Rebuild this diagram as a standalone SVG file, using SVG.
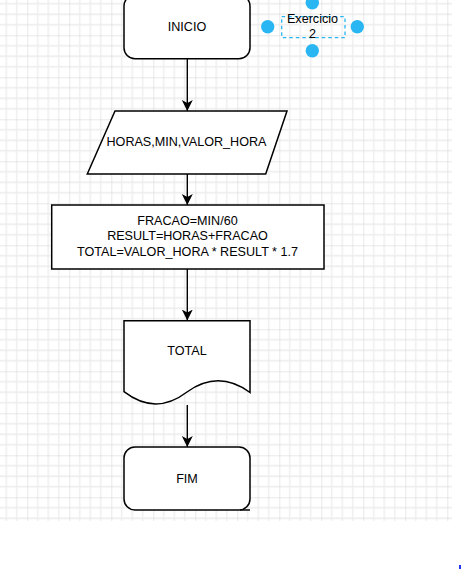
<svg xmlns="http://www.w3.org/2000/svg" width="462" height="569" viewBox="0 0 462 569">
<defs>
<pattern id="grid" patternUnits="userSpaceOnUse" x="-14.7" y="-6.7" width="42" height="42">
<path d="M10.5 0V42M21 0V42M31.5 0V42M0 10.5H42M0 21H42M0 31.5H42" stroke="#ececec" stroke-width="1.3" fill="none"/>
<path d="M0 0V42M0 0H42" stroke="#d2d2d2" stroke-width="1" fill="none"/>
</pattern>
<marker id="arr" viewBox="0 0 12 12" refX="11" refY="6" markerWidth="12" markerHeight="12" markerUnits="userSpaceOnUse" orient="auto">
<path d="M0 0.5L11 6L0 11.5L3 6Z" fill="#000"/>
</marker>
<clipPath id="gc"><rect x="0" y="0" width="452" height="521"/></clipPath>
</defs>
<style>
.shape{fill:#fff;stroke:#000;stroke-width:1.5}
.lbl{font-family:"Liberation Sans",Arial,sans-serif;font-size:12.6px;fill:#000;text-anchor:middle}
.edge{stroke:#000;stroke-width:1.4;fill:none;marker-end:url(#arr)}
.handle{fill:#29b6f2}
</style>
<rect width="462" height="569" fill="#fff"/>
<rect x="0" y="0" width="452" height="521" fill="url(#grid)" clip-path="url(#gc)"/>
<g id="connectors">
<path class="edge" d="M187.3 58.7V111"/>
<path class="edge" d="M187.3 174V205"/>
<path class="edge" d="M187.3 269V320.5"/>
<path class="edge" d="M187.3 405V447"/>
</g>
<g id="inicio">
<rect class="shape" x="124" y="-5" width="126" height="63.7" rx="11"/>
<text class="lbl" x="187" y="30.5">INICIO</text>
</g>
<g id="entrada">
<path class="shape" d="M115 111H287L265.7 174H87.3Z"/>
<text class="lbl" x="186.5" y="146.3">HORAS,MIN,VALOR_HORA</text>
</g>
<g id="processo">
<rect class="shape" x="51.7" y="205" width="272.3" height="64"/>
<text class="lbl" x="187.5" y="225.2">FRACAO=MIN/60</text>
<text class="lbl" x="187.5" y="240.3">RESULT=HORAS+FRACAO</text>
<text class="lbl" x="187.5" y="256.2">TOTAL=VALOR_HORA * RESULT * 1.7</text>
</g>
<g id="saida">
<path class="shape" d="M124 320.7H250V392.5Q218.5 369.4 187 392Q155.5 416 124 391.7Z"/>
<text class="lbl" x="187" y="354.5">TOTAL</text>
</g>
<g id="fim">
<rect class="shape" x="124" y="447" width="126" height="63" rx="11"/>
<path d="M240 510H250" stroke="#000" stroke-width="1.5"/>
<text class="lbl" x="187" y="482.5">FIM</text>
</g>
<g id="exercicio">
<rect x="281.7" y="16.7" width="63.3" height="21" fill="none" stroke="#29b6f2" stroke-width="1.3" stroke-dasharray="3.5 3"/>
<text class="lbl" x="312.5" y="22.5">Exercicio</text>
<text class="lbl" x="312.5" y="37.5">2</text>
<circle class="handle" cx="267.7" cy="26.7" r="6.7"/>
<circle class="handle" cx="357.3" cy="26.7" r="6.7"/>
<circle class="handle" cx="312.3" cy="2.7" r="6.7"/>
<circle class="handle" cx="312.3" cy="50.7" r="6.7"/>
</g>
<rect x="459" y="565" width="2" height="4" fill="#2233ee"/>
</svg>
